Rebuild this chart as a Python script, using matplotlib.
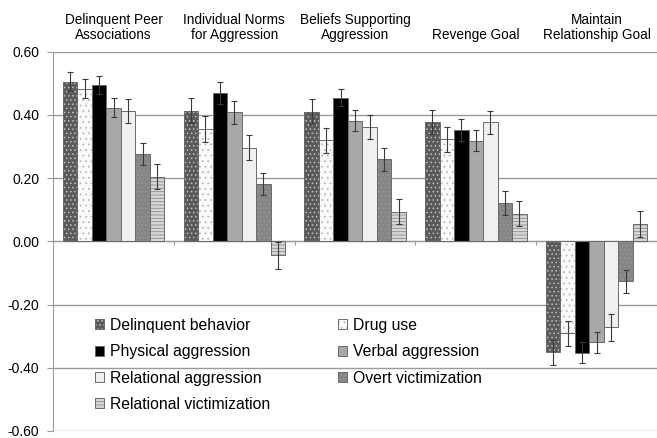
import numpy as np
import matplotlib
matplotlib.use("Agg")
import matplotlib.pyplot as plt
from matplotlib.patches import Patch
from matplotlib.transforms import blended_transform_factory

plt.rcParams['font.family'] = ['Liberation Sans', 'DejaVu Sans']
plt.rcParams['hatch.linewidth'] = 0.6

groups = ["Delinquent Peer\nAssociations", "Individual Norms\nfor Aggression",
          "Beliefs Supporting\nAggression", "Revenge Goal", "Maintain\nRelationship Goal"]
series = ["Delinquent behavior", "Drug use", "Physical aggression", "Verbal aggression",
          "Relational aggression", "Overt victimization", "Relational victimization"]

# rows = series, cols = groups
values = np.array([
    [0.505, 0.413, 0.410, 0.378, -0.351],
    [0.483, 0.355, 0.320, 0.323, -0.291],
    [0.495, 0.469, 0.455, 0.353, -0.352],
    [0.423, 0.408, 0.381, 0.318, -0.320],
    [0.412, 0.296, 0.362, 0.376, -0.272],
    [0.276, 0.182, 0.260, 0.121, -0.126],
    [0.205, -0.044, 0.094, 0.087, 0.054],
])
errors = np.array([
    [0.030, 0.040, 0.040, 0.037, 0.040],
    [0.030, 0.040, 0.040, 0.039, 0.040],
    [0.028, 0.034, 0.028, 0.035, 0.034],
    [0.030, 0.036, 0.033, 0.033, 0.034],
    [0.037, 0.040, 0.037, 0.037, 0.042],
    [0.035, 0.035, 0.036, 0.038, 0.036],
    [0.039, 0.042, 0.039, 0.040, 0.041],
])

faces = ['#5a5a5a', '#fafafa', '#000000', '#a8a8a8', '#f0f0f0', '#858585', '#d8d8d8']
hatches = ['....', '...', None, None, None, '....', '-----']
hcolors = ['#c0c0c0', '#b8b8b8', '#000000', '#a8a8a8', '#f0f0f0', '#999999', '#8c8c8c']

fig = plt.figure(figsize=(6.57, 4.38), dpi=100)
ax = fig.add_axes([0.081, 0.016, 0.919, 0.866])

x = np.arange(len(groups))
w = 0.12
handles = []
for i in range(len(series)):
    pos = x + (i - 3) * w
    ax.bar(pos, values[i], w, color=faces[i], hatch=hatches[i], edgecolor=hcolors[i],
           linewidth=0, zorder=2)
    ax.bar(pos, values[i], w, fill=False, edgecolor='#6a6a6a', linewidth=0.7, zorder=3)
    ax.errorbar(pos, values[i], yerr=errors[i], fmt='none', ecolor='#3a3a3a',
                elinewidth=0.8, capsize=2, capthick=0.8, zorder=4)
    handles.append((Patch(facecolor=faces[i], hatch=hatches[i], edgecolor=hcolors[i], linewidth=0),
                    Patch(fill=False, edgecolor='#6a6a6a', linewidth=0.7)))

ax.set_xlim(-0.5, 4.5)
ax.set_ylim(-0.6, 0.6)
ax.set_yticks([-0.6, -0.4, -0.2, 0.0, 0.2, 0.4, 0.6])
ax.set_yticklabels(["%.2f" % v for v in [-0.6, -0.4, -0.2, 0.0, 0.2, 0.4, 0.6]], fontsize=10)
ax.yaxis.grid(True, color='#9a9a9a', linewidth=1.0)
ax.set_axisbelow(True)

ax.spines['top'].set_visible(False)
ax.spines['right'].set_visible(False)
ax.spines['left'].set_color('#9a9a9a')
ax.spines['bottom'].set_position(('data', 0))
ax.spines['bottom'].set_color('#9a9a9a')
ax.set_xticks([0.5, 1.5, 2.5, 3.5])
ax.set_xticklabels([])
ax.tick_params(axis='x', direction='out', length=3, color='#9a9a9a')
ax.tick_params(axis='y', direction='out', length=4, color='#9a9a9a', pad=6)

trans = blended_transform_factory(ax.transData, ax.transAxes)
for j, g in enumerate(groups):
    ax.text(x[j], 1.026, g, transform=trans, ha='center', va='bottom',
            fontsize=9.8, linespacing=1.1)

# legend filled row-wise in the reference
order = [0, 2, 4, 6, 1, 3, 5]
ax.legend([handles[k] for k in order], [series[k] for k in order], ncol=2,
          loc='upper left', bbox_to_anchor=(95 / 657, 1 - 318 / 438),
          bbox_transform=fig.transFigure, frameon=False, fontsize=11.3,
          handlelength=0.6, handleheight=0.6, handletextpad=0.35,
          labelspacing=0.72, columnspacing=4.3, borderpad=0, borderaxespad=0)

fig.savefig("out.png", dpi=100)
